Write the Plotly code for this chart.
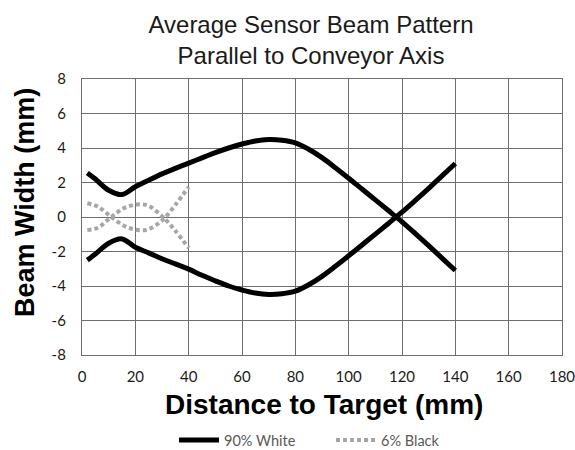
import plotly.graph_objects as go

# ---- data ----
white_x = [2, 5, 10, 15, 20, 25, 30, 35, 40, 45, 50, 55, 60, 65, 70, 75, 80, 85, 90, 95, 100,
           105, 110, 115, 120, 125, 130, 135, 140]
white_upper = [2.55, 2.2, 1.55, 1.3, 1.75, 2.13, 2.5, 2.82, 3.12, 3.43, 3.73, 4.0, 4.23, 4.41, 4.49,
               4.45, 4.3, 3.93, 3.44, 2.86, 2.25, 1.62, 0.99, 0.36, -0.28, -0.96, -1.66, -2.38, -3.1]
white_lower = [-2.5, -2.15, -1.52, -1.27, -1.75, -2.08, -2.42, -2.72, -3.02, -3.38, -3.7, -4.0, -4.23,
               -4.41, -4.49, -4.45, -4.3, -3.93, -3.44, -2.86, -2.25, -1.62, -0.99, -0.36, 0.28, 0.96,
               1.66, 2.38, 3.1]

black_x = [2, 6, 11, 17, 24, 30, 35, 40]
black_a = [0.8, 0.6, 0.0, -0.6, -0.75, -0.2, 0.7, 1.75]
black_b = [-0.75, -0.62, 0.0, 0.6, 0.7, 0.05, -0.8, -1.8]

x_ticks = [0, 20, 40, 60, 80, 100, 120, 140, 160, 180]
y_ticks = [-8, -6, -4, -2, 0, 2, 4, 6, 8]

title_text = "Average Sensor Beam Pattern<br>Parallel to Conveyor Axis"
x_title = "Distance to Target (mm)"
y_title = "Beam Width (mm)"
names = ["90% White", "6% Black"]

W, H = 575, 450
fig = go.Figure()

wline = dict(color="#000000", width=5, shape="spline", smoothing=1)
bline = dict(color="#a6a6a6", width=4, dash="4px,3px", shape="spline", smoothing=1)

fig.add_trace(go.Scatter(x=white_x, y=white_upper, mode="lines", name=names[0],
                         legend="legend", line=wline))
fig.add_trace(go.Scatter(x=white_x, y=white_lower, mode="lines", name=names[0], showlegend=False,
                         line=wline))
fig.add_trace(go.Scatter(x=black_x, y=black_a, mode="lines", name=names[1],
                         legend="legend2", line=bline))
fig.add_trace(go.Scatter(x=black_x, y=black_b, mode="lines", name=names[1], showlegend=False,
                         line=bline))

grid = "#6e6e6e"
tickfont = dict(family="Lato, sans-serif", size=15, color="#1a1a1a")
legfont = dict(family="Lato, sans-serif", size=14.5, color="#595959")

fig.update_layout(
    width=W, height=H,
    margin=dict(l=82, r=13, t=79, b=95, autoexpand=False),
    paper_bgcolor="white", plot_bgcolor="white",
    showlegend=True,
    title=dict(text=title_text, x=311 / W, xref="container", xanchor="center",
               y=1 - 33 / H, yref="container", yanchor="top",
               font=dict(family="Liberation Sans, Arial, sans-serif", size=24, color="#1a1a1a")),
    legend=dict(orientation="h", xref="container", yref="container",
                x=174 / W, xanchor="left", y=1 - 440 / H, yanchor="middle",
                font=legfont, bgcolor="rgba(0,0,0,0)", itemwidth=40),
    legend2=dict(orientation="h", xref="container", yref="container",
                 x=331 / W, xanchor="left", y=1 - 440 / H, yanchor="middle",
                 font=legfont, bgcolor="rgba(0,0,0,0)", itemwidth=40),
    xaxis=dict(range=[0, 180], tickvals=x_ticks, ticktext=[str(v) for v in x_ticks],
               showgrid=True, gridcolor=grid, gridwidth=1.2, zeroline=False,
               showline=True, linecolor=grid, linewidth=1.2, mirror=True,
               ticks="", tickfont=tickfont, ticklabelstandoff=8, ticklabeloverflow="allow"),
    yaxis=dict(range=[-8, 8], tickvals=y_ticks, ticktext=[str(v) for v in y_ticks],
               showgrid=True, gridcolor=grid, gridwidth=1.2, zeroline=False,
               showline=True, linecolor=grid, linewidth=1.2, mirror=True,
               ticks="", tickfont=tickfont, ticklabelstandoff=12, ticklabeloverflow="allow"),
    annotations=[
        dict(text=x_title, xref="paper", yref="paper", x=(324 - 82) / 480, y=-(404 - 355) / 276,
             xanchor="center", yanchor="middle", showarrow=False,
             font=dict(family="Liberation Sans, Arial, sans-serif", size=28, color="#000000",
                       weight="bold")),
        dict(text=y_title, xref="paper", yref="paper", x=-(82 - 25) / 480, y=(355 - 203) / 276,
             xanchor="center", yanchor="middle", showarrow=False, textangle=-90,
             font=dict(family="Liberation Sans, Arial, sans-serif", size=27, color="#000000",
                       weight="bold")),
    ],
)

fig.write_html("out.html", config={"displayModeBar": False},
               post_script="document.body.style.margin='0';document.body.style.overflow='hidden';")
